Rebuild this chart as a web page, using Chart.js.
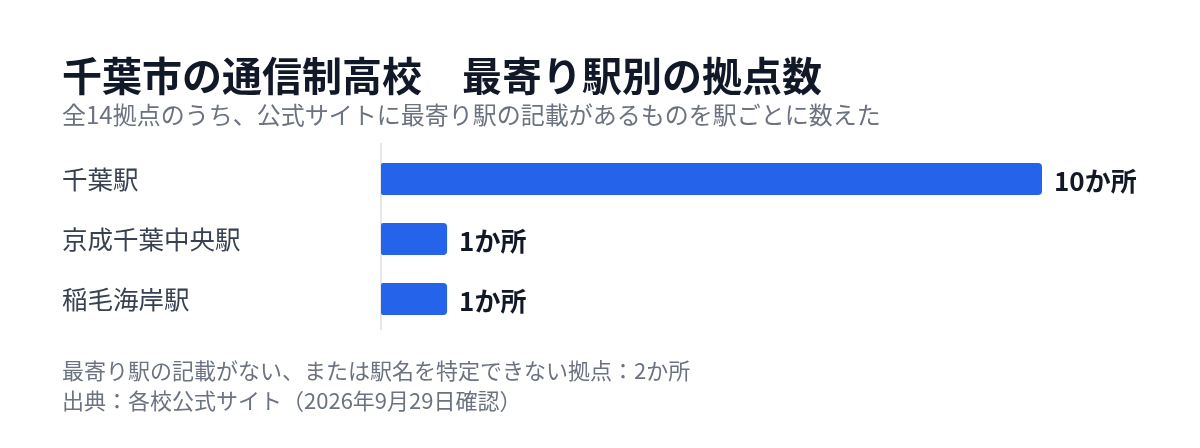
<!DOCTYPE html>
<html lang="ja">
<head>
<meta charset="utf-8">
<script src="https://cdn.jsdelivr.net/npm/chart.js@4"></script>
<style>
  html, body { margin: 0; padding: 0; background: #ffffff; }
  body { width: 1200px; height: 448px; position: relative; overflow: hidden;
         font-family: "Noto Sans CJK JP", "Noto Sans", sans-serif; }
  .t { position: absolute; left: 62px; white-space: nowrap; }
  #title { top: 54px; font-size: 40px; line-height: 40px; font-weight: 700; color: #111827; }
  #subtitle { top: 102px; font-size: 24px; line-height: 24px; color: #6b7280; }
  #note1 { top: 358px; font-size: 22px; line-height: 22px; color: #6b7280; }
  #note2 { top: 388px; font-size: 22px; line-height: 22px; color: #6b7280; }
  #wrap { position: absolute; left: 0; top: 0; width: 1200px; height: 448px; }
</style>
</head>
<body>
<div id="wrap"><canvas id="c"></canvas></div>
<div class="t" id="title">千葉市の通信制高校　最寄り駅別の拠点数</div>
<div class="t" id="subtitle">全14拠点のうち、公式サイトに最寄り駅の記載があるものを駅ごとに数えた</div>
<div class="t" id="note1">最寄り駅の記載がない、または駅名を特定できない拠点：2か所</div>
<div class="t" id="note2">出典：各校公式サイト（2026年9月29日確認）</div>
<script>
const stations = ["千葉駅", "京成千葉中央駅", "稲毛海岸駅"];
const counts = [10, 1, 1];
const unitSuffix = "か所";
const xMin = 0;
const xMax = 10;

const FONT = '"Noto Sans CJK JP", "Noto Sans", sans-serif';

const valueLabels = {
  id: 'valueLabels',
  afterDatasetsDraw(chart) {
    const ctx = chart.ctx;
    const meta = chart.getDatasetMeta(0);
    ctx.save();
    ctx.font = '700 26px ' + FONT;
    ctx.fillStyle = '#111827';
    ctx.textAlign = 'left';
    ctx.textBaseline = 'middle';
    meta.data.forEach((bar, i) => {
      ctx.fillText(counts[i] + unitSuffix, bar.x + 12, bar.y + 2);
    });
    ctx.restore();
  }
};

const axisLine = {
  id: 'axisLine',
  beforeDatasetsDraw(chart) {
    const { ctx, chartArea } = chart;
    ctx.save();
    ctx.strokeStyle = '#e5e7eb';
    ctx.lineWidth = 2;
    ctx.beginPath();
    ctx.moveTo(chartArea.left, chartArea.top - 6);
    ctx.lineTo(chartArea.left, chartArea.bottom + 1);
    ctx.stroke();
    ctx.restore();
  }
};

new Chart(document.getElementById('c'), {
  type: 'bar',
  data: {
    labels: stations,
    datasets: [{
      data: counts,
      backgroundColor: '#2563eb',
      borderWidth: 0,
      borderRadius: { topLeft: 2, bottomLeft: 2, topRight: 4, bottomRight: 4 },
      borderSkipped: false,
      categoryPercentage: 1,
      barPercentage: 0.535
    }]
  },
  options: {
    indexAxis: 'y',
    responsive: true,
    maintainAspectRatio: false,
    animation: false,
    layout: { padding: { left: 62, right: 158, top: 149, bottom: 119 } },
    plugins: { legend: { display: false }, tooltip: { enabled: false } },
    scales: {
      x: { display: false, min: xMin, max: xMax },
      y: {
        grid: { display: false },
        border: { display: false },
        ticks: {
          crossAlign: 'far',
          color: '#374151',
          font: { family: FONT, size: 25.5 },
          padding: 0
        },
        afterFit(axis) { axis.width = 319; }
      }
    }
  },
  plugins: [axisLine, valueLabels]
});
</script>
</body>
</html>
